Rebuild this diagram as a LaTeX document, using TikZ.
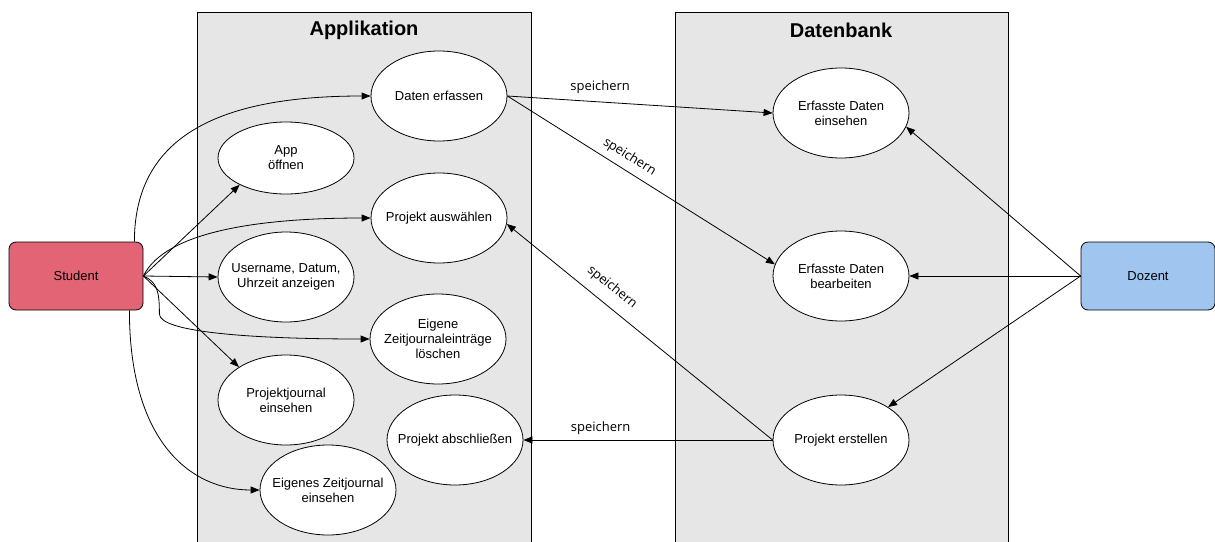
\documentclass[tikz,border=0pt]{standalone}
\usepackage{fontspec}
\setmainfont{Liberation Sans}
\newfontfamily\labelfont{Open Sans}
\usetikzlibrary{arrows.meta,shapes.geometric}
\definecolor{lanegray}{RGB}{230,230,230}
\definecolor{studentred}{RGB}{227,100,117}
\definecolor{dozentblue}{RGB}{160,198,240}

\begin{document}
\begin{tikzpicture}[
    x=1pt, y=-1pt, line width=0.8pt,
    >={Triangle[length=9pt,width=7pt]},
    usecase/.style={draw, ellipse, fill=white, minimum width=136pt, minimum height=90pt,
        inner xsep=-20pt, inner ysep=0pt, align=center, font=\fontsize{13}{15}\selectfont},
    actor/.style={draw, rounded corners=7pt, minimum width=134pt, minimum height=68pt,
        font=\fontsize{13}{15}\selectfont},
    flow/.style={->},
    lbl/.style={font=\labelfont\fontsize{13}{15}\selectfont},
    lanetitle/.style={font=\bfseries\fontsize{20}{24}\selectfont},
]
\useasboundingbox (0,0) rectangle (1215,541);
\fill[lanegray] (197,12) rectangle (531,560);
\draw (197,560) -- (197,12) -- (531,12) -- (531,560);
\fill[lanegray] (675,12) rectangle (1008,560);
\draw (675,560) -- (675,12) -- (1008,12) -- (1008,560);
\node[lanetitle] (applikation) at (364,30) {Applikation};
\node[lanetitle] (datenbank)   at (841,30) {Datenbank};

\node[actor, fill=studentred] (student) at (76,276)   {Student};
\node[actor, fill=dozentblue] (dozent)  at (1148,276) {Dozent};

\node[usecase]                    (erfassen)     at (439,96)  {Daten erfassen};
\node[usecase, minimum height=72pt] (oeffnen)    at (286,158) {App\\öffnen};
\node[usecase]                    (auswaehlen)   at (439,218) {Projekt auswählen};
\node[usecase]                    (anzeigen)     at (286,277) {Username, Datum,\\Uhrzeit anzeigen};
\node[usecase]                    (loeschen)     at (438,339) {Eigene\\Zeitjournaleinträge\\löschen};
\node[usecase]                    (pjournal)     at (286,400) {Projektjournal\\einsehen};
\node[usecase]                    (abschliessen) at (455,440) {Projekt abschließen};
\node[usecase]                    (zjournal)     at (328,490) {Eigenes Zeitjournal\\einsehen};
\node[usecase]                    (einsehen)     at (841,113) {Erfasste Daten\\einsehen};
\node[usecase]                    (bearbeiten)   at (841,276) {Erfasste Daten\\bearbeiten};
\node[usecase]                    (erstellen)    at (841,440) {Projekt erstellen};

\draw[flow] ([xshift=-9pt]student.north east) .. controls +(0,-112) and +(-140,0) .. (erfassen.west);
\draw[flow] (student.east) -- (oeffnen.210);
\draw[flow] (student.east) .. controls +(22,-45) and +(-110,0) .. (auswaehlen.west);
\draw[flow] (student.east) -- (anzeigen.west);
\draw[flow] (student.east) .. controls +(14,6) and +(0,-22) .. ++(16,38)
    .. controls +(0,18) and +(-120,0) .. (loeschen.west);
\draw[flow] (student.east) -- (pjournal.145);
\draw[flow] ([xshift=-14pt]student.south east) .. controls +(0,130) and +(-70,0) .. (zjournal.west);

\draw[flow] (erfassen.east) -- node[lbl, above=5pt, pos=0.35] {speichern} (einsehen.west);
\draw[flow] (erfassen.east) -- node[lbl, sloped, above=3pt, pos=0.43] {speichern} (bearbeiten.170);
\draw[flow] (erstellen.west) -- node[lbl, sloped, above=7pt, pos=0.645] {speichern} (auswaehlen.-5);
\draw[flow] (erstellen.west) -- node[lbl, above=2pt, pos=0.69] {speichern} (abschliessen.east);

\draw[flow] (dozent.west) -- (einsehen.-12);
\draw[flow] (dozent.west) -- (bearbeiten.east);
\draw[flow] (dozent.west) -- (erstellen.35);
\end{tikzpicture}
\end{document}
